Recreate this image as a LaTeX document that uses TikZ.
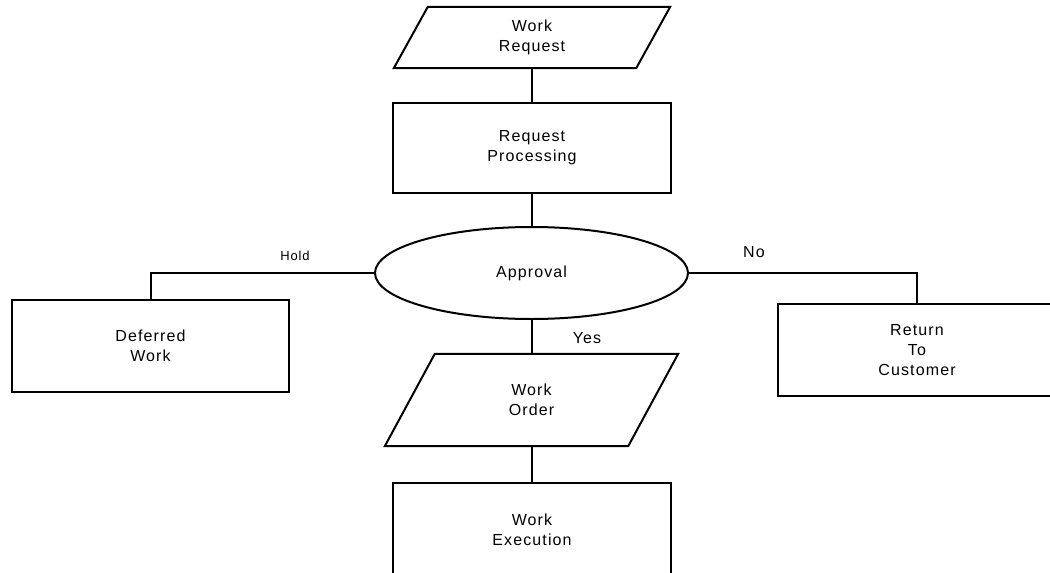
\documentclass[tikz,border=0pt]{standalone}
\usepackage{fontspec}
\setmainfont{Liberation Sans}[LetterSpace=7]
\usetikzlibrary{shapes.geometric,calc}

\tikzset{
  x=1pt, y=-1pt,
  every node/.style={font=\fontsize{16}{20}\selectfont, align=center, inner sep=0pt},
  boxnode/.style={draw, line width=2pt, minimum width=278, minimum height=90},
  paranode/.style={minimum width=242, minimum height=61},
  decision/.style={draw, ellipse, line width=2pt, minimum width=313, minimum height=92},
  link/.style={line width=2pt},
  smalllabel/.style={font=\fontsize{13}{15}\selectfont},
}

\begin{document}
\begin{tikzpicture}
  \useasboundingbox (0,0) rectangle (1050,573);
  \clip (0,0) rectangle (1050,573);

  % input: work request (parallelogram)
  \node[paranode] (wr) at (532,37.5) {Work\\Request};
  \draw[link] ([xshift=17]wr.north west) -- ([xshift=17]wr.north east)
    -- ([xshift=-17]wr.south east) -- ([xshift=-17]wr.south west) -- cycle;

  % processing
  \node[boxnode] (rp) at (532,148) {Request\\Processing};

  % decision
  \node[decision] (ap) at (531.5,273) {Approval};

  % outcomes
  \node[boxnode, minimum width=277, minimum height=92] (df) at (150.5,346) {Deferred\\Work};
  \node[boxnode, minimum height=92] (rt) at (917,350) {Return\\To\\Customer};

  % work order (parallelogram)
  \node[paranode, minimum width=243, minimum height=92] (wo) at (531.5,400) {Work\\Order};
  \draw[link] ([xshift=25]wo.north west) -- ([xshift=25]wo.north east)
    -- ([xshift=-25]wo.south east) -- ([xshift=-25]wo.south west) -- cycle;

  % execution
  \node[boxnode, minimum height=93] (we) at (532,529.5) {Work\\Execution};

  % connectors
  \draw[link] (wr.south -| rp.north) -- (rp.north);
  \draw[link] (rp.south) -- (rp.south |- ap.north);
  \draw[link] (ap.west) -| (df.north);
  \draw[link] (ap.east) -| (rt.north);
  \draw[link] (ap.south) -- (ap.south |- wo.north);
  \draw[link] (wo.south -| we.north) -- (we.north);

  % branch labels
  \node[smalllabel] (lhold) at (295,256) {Hold};
  \node (lno) at (754,252) {No};
  \node (lyes) at (587,338) {Yes};
\end{tikzpicture}
\end{document}
